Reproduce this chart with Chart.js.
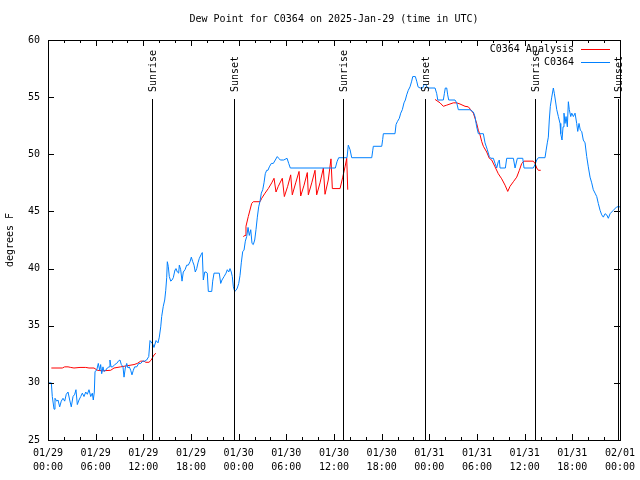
<!DOCTYPE html>
<html>
<head>
<meta charset="utf-8">
<title>Dew Point for C0364</title>
<script src="https://cdn.jsdelivr.net/npm/chart.js@4.4.1/dist/chart.umd.min.js"></script>
<style>
  html, body { margin: 0; padding: 0; background: #fff; }
  canvas { display: block; }
</style>
</head>
<body>
<canvas id="dewChart" width="640" height="480"></canvas>
<script>
var titleText = "Dew Point for C0364 on 2025-Jan-29 (time in UTC)";
var yAxisTitle = "degrees F";

// x axis is hours since 01/29 00:00 UTC
var xTickDates = ["01/29", "01/29", "01/29", "01/29", "01/30", "01/30", "01/30", "01/30",
	"01/31", "01/31", "01/31", "01/31", "02/01"];
var xTickTimes = ["00:00", "06:00", "12:00", "18:00", "00:00", "06:00", "12:00", "18:00",
	"00:00", "06:00", "12:00", "18:00", "00:00"];

var sunHours = [13.13, 23.45, 37.17, 47.5, 61.34, 71.71];
var sunLabels = ["Sunrise", "Sunset", "Sunrise", "Sunset", "Sunrise", "Sunset"];

// C0364 observations
var obsHours = [0, 0.42, 0.54, 0.76, 0.88, 1.10, 1.26, 1.47, 1.67, 1.89, 2.10, 2.30, 2.52, 2.73, 2.93,
	3.15, 3.36, 3.52, 3.69, 3.90, 4.12, 4.32, 4.53, 4.75, 4.95, 5.16, 5.38, 5.58, 5.70, 5.83,
	5.92, 6.13, 6.33, 6.51, 6.63, 6.76, 6.92, 7.05, 7.26, 7.46, 7.68, 7.80, 7.93, 8.14, 8.40,
	8.65, 8.85, 9.06, 9.23, 9.44, 9.57, 9.73, 9.91, 10.07, 10.23, 10.41, 10.57, 10.74, 10.91, 11.17,
	11.42, 11.67, 11.92, 12.17, 12.42, 12.68, 12.84, 13.18, 13.34, 13.60, 13.85, 14.01, 14.19, 14.31, 14.51,
	14.69, 14.82, 14.94, 15.02, 15.14, 15.27, 15.45, 15.61, 15.77, 15.99, 16.11, 16.28, 16.45, 16.53, 16.70,
	16.87, 17.03, 17.25, 17.46, 17.66, 17.88, 18.04, 18.22, 18.38, 18.54, 18.72, 18.88, 19.05, 19.26, 19.42,
	19.55, 19.73, 19.89, 20.05, 20.18, 20.39, 20.61, 20.73, 20.90, 21.56, 21.74, 21.90, 22.16, 22.41, 22.57,
	22.75, 22.91, 23.07, 23.20, 23.33, 23.50, 23.67, 23.83, 24.01, 24.17, 24.33, 24.51, 24.67, 24.84, 25.01,
	25.18, 25.34, 25.52, 25.68, 25.84, 26.02, 26.18, 26.35, 26.52, 26.69, 26.85, 27.03, 27.19, 27.35, 27.53,
	27.69, 27.86, 28.11, 28.36, 28.61, 28.86, 29.04, 29.24, 29.67, 30.09, 30.30, 30.50, 36.17, 36.38, 36.59,
	37.64, 37.80, 38.02, 38.23, 40.75, 40.87, 40.95, 42.01, 42.13, 42.21, 43.68, 43.81, 43.97, 44.22, 44.40,
	44.60, 44.81, 44.98, 45.15, 45.35, 45.57, 45.78, 45.91, 46.24, 46.41, 46.58, 46.83, 47.17, 47.33, 47.58,
	47.75, 48.72, 48.93, 49.06, 49.76, 49.89, 50.01, 50.19, 50.31, 50.44, 51.23, 51.45, 51.65, 53.12, 53.54,
	53.75, 53.96, 54.17, 54.80, 55.01, 55.30, 55.55, 55.73, 56.06, 56.27, 56.48, 56.68, 56.81, 56.90, 57.57,
	57.74, 58.58, 58.79, 59.08, 59.76, 59.92, 61.09, 61.30, 61.52, 61.72, 62.56, 62.69, 62.85, 62.98, 63.10,
	63.23, 63.41, 63.61, 63.74, 63.86, 64.04, 64.24, 64.45, 64.54, 64.70, 64.83, 64.95, 65.08, 65.21, 65.37,
	65.50, 65.62, 65.80, 65.93, 66.13, 66.34, 66.55, 66.68, 66.84, 67.01, 67.18, 67.38, 67.60, 67.81, 68.01,
	68.23, 68.44, 68.64, 68.86, 69.07, 69.27, 69.49, 69.70, 69.90, 70.12, 70.33, 70.53, 70.75, 71.16, 71.59,
	72.0];
var obsValues = [30.0, 30.0, 28.8, 27.7, 28.65, 28.4, 28.5, 27.9, 28.4, 28.65, 28.4, 29.0, 29.2, 28.5, 27.9,
	28.8, 29.0, 29.4, 28.1, 28.5, 28.8, 29.1, 28.8, 29.2, 29.0, 29.4, 28.8, 29.1, 28.5, 29.2,
	31.0, 31.1, 31.7, 31.1, 31.6, 30.8, 31.4, 31.0, 31.1, 31.3, 31.4, 32.0, 31.4, 31.4, 31.6,
	31.7, 31.9, 32.0, 31.6, 31.4, 30.5, 31.3, 31.7, 31.3, 31.4, 31.1, 30.7, 31.1, 31.4, 31.4,
	31.7, 31.7, 31.9, 31.9, 32.0, 32.3, 33.7, 33.4, 33.1, 33.7, 33.5, 34.0, 34.9, 35.8, 36.7,
	37.25, 38.1, 39.2, 40.6, 40.2, 39.3, 38.9, 39.0, 39.2, 39.9, 40.0, 39.7, 39.6, 40.3, 39.9,
	38.9, 39.7, 39.9, 40.3, 40.3, 40.6, 41.0, 40.6, 40.3, 39.7, 40.0, 40.5, 40.9, 41.2, 41.4,
	39.0, 39.7, 39.7, 39.6, 38.0, 38.0, 38.0, 38.9, 39.6, 39.6, 38.7, 39.0, 39.3, 39.6, 39.9,
	39.7, 40.0, 39.7, 39.3, 38.4, 38.0, 38.1, 38.3, 38.7, 39.4, 40.5, 41.5, 41.6, 42.4, 42.8,
	43.6, 42.9, 43.4, 42.2, 42.1, 42.5, 43.4, 44.5, 45.4, 45.9, 46.6, 46.9, 47.5, 48.3, 48.6,
	48.6, 48.9, 49.2, 49.2, 49.5, 49.8, 49.65, 49.5, 49.5, 49.65, 49.2, 48.8, 48.8, 49.35, 49.7,
	49.7, 50.8, 50.4, 49.7, 49.7, 50.3, 50.7, 50.7, 51.3, 51.8, 51.8, 52.6, 52.85, 53.15, 53.6,
	53.9, 54.5, 54.75, 55.2, 55.6, 55.9, 56.4, 56.8, 56.8, 56.4, 55.9, 55.8, 55.8, 56.1, 56.1,
	55.8, 55.8, 55.3, 54.75, 54.75, 55.3, 55.8, 55.8, 55.2, 54.75, 54.75, 54.5, 53.9, 53.9, 53.7,
	53.3, 52.4, 51.8, 51.8, 51.0, 50.4, 49.8, 49.65, 49.65, 49.2, 48.8, 49.35, 49.5, 48.8, 48.8,
	49.65, 49.65, 48.8, 49.65, 49.65, 48.8, 48.8, 49.1, 49.5, 49.7, 49.7, 50.3, 51.0, 51.5, 53.0,
	54.2, 55.0, 55.8, 55.3, 54.75, 53.9, 53.3, 52.7, 51.8, 51.25, 52.4, 53.6, 52.7, 53.3, 52.4,
	54.6, 53.9, 53.3, 53.6, 53.3, 53.6, 52.7, 52.0, 52.7, 52.1, 52.0, 51.25, 51.0, 49.8, 48.9,
	48.0, 47.5, 46.9, 46.6, 46.3, 45.7, 45.1, 44.7, 44.5, 44.8, 44.7, 44.4, 44.8, 45.1, 45.4,
	45.4];

// C0364 Analysis (null = no analysis)
var anaHours = [0.42, 1.80, 2.10, 2.52, 2.86, 3.27, 4.03, 4.75, 5.16, 5.79, 6.21, 6.84, 7.89, 8.31, 9.15,
	9.98, 10.83, 11.24, 11.67, 12.08, 12.30, 12.71, 13.00, 13.26, 13.56, 18.0,
	24.58, 24.80, 24.92, 25.21, 25.64, 25.84, 26.69, 26.90, 27.32, 27.73, 28.16, 28.45, 28.70, 28.99, 29.49,
	29.75, 30.17, 30.55, 30.75, 31.18, 31.60, 31.81, 32.23, 32.64, 32.77, 33.20, 33.61, 33.82, 34.24, 34.66,
	34.87, 35.28, 35.62, 35.79, 36.76, 37.10, 37.39, 37.60, 37.73, 43.0,
	48.72, 49.35, 49.76, 50.19, 51.02, 51.45, 51.86, 52.49, 52.91, 53.21, 53.54, 53.75, 53.96, 54.17, 54.38,
	54.60, 54.80, 55.22, 55.55, 55.85, 56.27, 56.68, 57.11, 57.53, 57.87, 58.16, 58.58, 59.00, 59.33, 59.63,
	59.92, 61.09, 61.30, 61.52, 61.72, 62.02];
var anaValues = [31.3, 31.3, 31.4, 31.4, 31.35, 31.3, 31.35, 31.35, 31.3, 31.3, 31.1, 31.05, 31.1, 31.3, 31.4,
	31.5, 31.6, 31.7, 31.9, 31.9, 31.8, 31.8, 32.0, 32.35, 32.6, null,
	42.8, 42.9, 43.7, 44.55, 45.7, 45.85, 45.85, 46.15, 46.6, 47.0, 47.5, 47.9, 46.7, 47.2, 47.9,
	46.3, 47.2, 48.2, 46.45, 47.5, 48.5, 46.35, 47.3, 48.4, 46.45, 47.5, 48.6, 46.45, 47.5, 48.8,
	46.5, 47.75, 49.6, 47.0, 47.0, 48.0, 48.9, 49.65, 46.9, null,
	54.8, 54.5, 54.2, 54.3, 54.5, 54.5, 54.4, 54.2, 54.15, 53.9, 53.6, 53.15, 52.7, 52.1, 51.7,
	51.1, 50.7, 50.2, 49.65, 49.5, 48.9, 48.3, 47.85, 47.3, 46.75, 47.2, 47.6, 48.0, 48.6, 49.2,
	49.4, 49.4, 49.2, 48.8, 48.6, 48.6];

var monoFont = "'DejaVu Sans Mono', 'Liberation Mono', monospace";

function toPoints(hours, values) {
	return hours.map(function(h, i) { return { x: h, y: values[i] }; });
}

// gnuplot-like frame: border, inward tics, sunrise/sunset markers, key and title
var gnuplotFrame = {
	id: 'gnuplotFrame',
	afterDatasetsDraw: function(chart) {
		var ctx = chart.ctx;
		var a = chart.chartArea;
		var xs = chart.scales.x;
		var ys = chart.scales.y;
		ctx.save();
		ctx.strokeStyle = '#000';
		ctx.fillStyle = '#000';
		ctx.lineWidth = 1;

		var markTop = Math.round(ys.getPixelForValue(54.8));
		ctx.font = '10px ' + monoFont;
		sunHours.forEach(function(h, i) {
			var px = Math.round(xs.getPixelForValue(h)) + 0.5;
			ctx.beginPath();
			ctx.moveTo(px, markTop);
			ctx.lineTo(px, a.bottom);
			ctx.stroke();
			ctx.save();
			ctx.translate(px + 1, markTop - 7);
			ctx.rotate(-Math.PI / 2);
			ctx.textAlign = 'left';
			ctx.textBaseline = 'middle';
			ctx.fillText(sunLabels[i], 0, 0);
			ctx.restore();
		});

		// tics
		ctx.beginPath();
		for (var h = 0; h <= 72; h += 2) {
			var len = (h % 6 === 0) ? 6 : 3;
			var tx = Math.round(xs.getPixelForValue(h)) + 0.5;
			ctx.moveTo(tx, a.bottom);
			ctx.lineTo(tx, a.bottom - len);
			ctx.moveTo(tx, a.top);
			ctx.lineTo(tx, a.top + len);
		}
		for (var v = 25; v <= 60; v += 5) {
			var ty = Math.round(ys.getPixelForValue(v)) + 0.5;
			ctx.moveTo(a.left, ty);
			ctx.lineTo(a.left + 6, ty);
			ctx.moveTo(a.right, ty);
			ctx.lineTo(a.right - 6, ty);
		}
		ctx.stroke();
		ctx.strokeRect(Math.round(a.left) + 0.5, Math.round(a.top) + 0.5,
			Math.round(a.right - a.left), Math.round(a.bottom - a.top));

		// title
		ctx.textAlign = 'center';
		ctx.textBaseline = 'middle';
		ctx.fillText(titleText, (a.left + a.right) / 2, 19);

		// key
		var keyRows = [{ text: 'C0364 Analysis', color: '#ff0000' }, { text: 'C0364', color: '#0080ff' }];
		keyRows.forEach(function(row, i) {
			var ky = a.top + 9 + i * 13;
			ctx.fillStyle = '#000';
			ctx.textAlign = 'right';
			ctx.fillText(row.text, a.right - 46, ky);
			ctx.strokeStyle = row.color;
			ctx.beginPath();
			ctx.moveTo(a.right - 39, Math.round(ky) + 0.5);
			ctx.lineTo(a.right - 10, Math.round(ky) + 0.5);
			ctx.stroke();
		});
		ctx.restore();
	}
};

new Chart(document.getElementById('dewChart'), {
	type: 'line',
	data: {
		datasets: [{
			label: 'C0364',
			data: toPoints(obsHours, obsValues),
			borderColor: '#0080ff',
			borderWidth: 1,
			pointRadius: 0,
			tension: 0,
			fill: false
		}, {
			label: 'C0364 Analysis',
			data: toPoints(anaHours, anaValues),
			borderColor: '#ff0000',
			borderWidth: 1,
			pointRadius: 0,
			tension: 0,
			fill: false,
			spanGaps: false
		}]
	},
	options: {
		responsive: false,
		animation: false,
		devicePixelRatio: 1,
		layout: { padding: { left: 0, right: 20, top: 40, bottom: 0 } },
		plugins: {
			legend: { display: false },
			title: { display: false },
			tooltip: { enabled: false }
		},
		scales: {
			x: {
				type: 'linear',
				min: 0,
				max: 72,
				grid: { display: false, drawTicks: false },
				border: { display: false },
				ticks: {
					stepSize: 6,
					autoSkip: false,
					maxRotation: 0,
					padding: 6,
					color: '#000',
					font: { family: monoFont, size: 10, lineHeight: 1.4 },
					callback: function(value) {
						var i = Math.round(value / 6);
						return [xTickDates[i], xTickTimes[i]];
					}
				},
				afterFit: function(scale) {
					scale.height = 40;
					scale.paddingLeft = 0;
					scale.paddingRight = 0;
				}
			},
			y: {
				min: 25,
				max: 60,
				grid: { display: false, drawTicks: false },
				border: { display: false },
				ticks: {
					stepSize: 5,
					padding: 8,
					color: '#000',
					font: { family: monoFont, size: 10 }
				},
				title: {
					display: true,
					text: yAxisTitle,
					color: '#000',
					padding: { top: 4, bottom: 0 },
					font: { family: monoFont, size: 10 }
				},
				afterFit: function(scale) {
					scale.width = 48;
					scale.paddingTop = 0;
					scale.paddingBottom = 0;
				}
			}
		}
	},
	plugins: [gnuplotFrame]
});
</script>
</body>
</html>
